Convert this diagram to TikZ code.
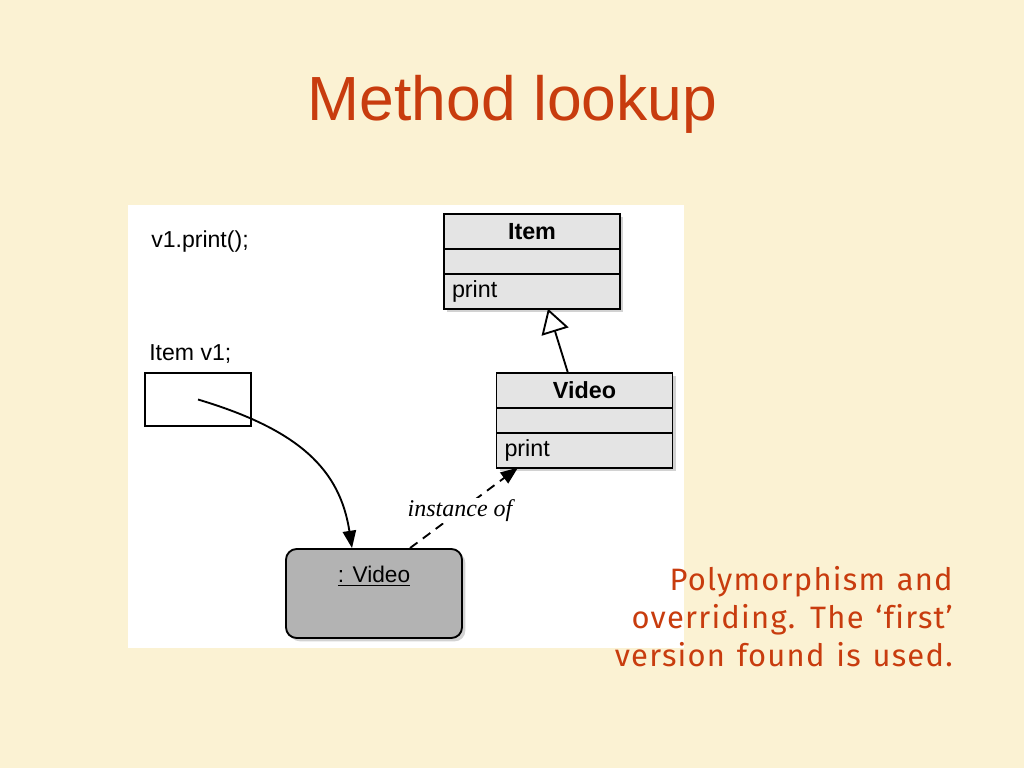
\documentclass[tikz,border=0pt]{standalone}
\usepackage{fontspec}
\setmainfont{Liberation Sans}
\newfontfamily\capfont[LetterSpace=4, WordSpace=1.25, Ligatures=NoCommon]{Fira Sans}
\newfontfamily\serifit{Liberation Serif}
\usetikzlibrary{positioning,arrows.meta,shadows}
\definecolor{slidebg}{RGB}{251,242,211}
\definecolor{slidered}{RGB}{200,60,14}
\definecolor{classgray}{RGB}{228,228,228}
\definecolor{objgray}{RGB}{179,179,179}

\tikzset{
	boxshadow/.style={drop shadow={shadow xshift=2.5pt, shadow yshift=-2.5pt, opacity=.35}},
	classbox/.style={draw, line width=1.4pt, fill=classgray, text width=120pt, inner xsep=6pt, inner ysep=0pt, outer sep=0pt, boxshadow},
	classhead/.style={classbox, minimum height=26.25pt, align=center, font=\fontsize{17.5}{20}\selectfont\bfseries},
	classattr/.style={classbox, minimum height=18.75pt},
	classop/.style={classbox, minimum height=26pt, align=left, font=\fontsize{17.5}{20}\selectfont},
	codetext/.style={anchor=base west, inner sep=0pt, font=\fontsize{17.3}{20}\selectfont},
	ref/.style={line width=1.4pt, -{Triangle[length=13pt,width=10pt]}},
}

\begin{document}
\begin{tikzpicture}[x=0.75pt, y=-0.75pt]
	\useasboundingbox (0,0) rectangle (1024,768);
	\fill [slidebg] (0,0) rectangle (1024,768);
	\fill [white] (128,205) rectangle (684,648);

	\node [anchor=base, text=slidered, font=\fontsize{46.8}{56}\selectfont] (title) at (512.5,120) {Method lookup};

	\node [codetext] (call) at (151,247) {v1.print();};
	\node [codetext] (decl) at (149,360) {Item v1;};
	\node [draw, line width=1.2pt, minimum width=79.5pt, minimum height=39.75pt] (v1box) at (198,399.5) {};

	% classes
	\node [classhead] (item) at (532,231.5) {Item};
	\node [classattr, below=0pt of item] (itemattr) {};
	\node [classop, below=0pt of itemattr] (itemop) {print};

	\node [classhead] (video) at (584.5,390.5) {Video};
	\node [classattr, below=0pt of video] (videoattr) {};
	\node [classop, below=0pt of videoattr] (videoop) {print};

	\draw [line width=1.4pt, -{Triangle[open, length=18pt, width=21pt, fill=white]}] ([xshift=-12.4pt]video.north) -- ([xshift=12pt]itemop.south);

	% object
	\node [draw, line width=1.4pt, fill=objgray, rounded corners=8pt, minimum width=132pt, minimum height=66.75pt, boxshadow] (obj) at (374,593.5) {};
	\node [below=13.5pt of obj.north, inner sep=0pt, font=\fontsize{17}{20}\selectfont] (objname) {\underline{: Video}};

	\draw [ref] (v1box.center) .. controls (300,430) and (340,470) .. ([xshift=-16.5pt]obj.north);
	\draw [ref, dash pattern=on 7pt off 5pt] ([xshift=27pt]obj.north) -- node [fill=white, inner sep=1pt, xshift=-3pt, yshift=-2pt, font=\serifit\itshape\fontsize{18}{21}\selectfont] (instlabel) {instance of} ([xshift=-49.9pt]videoop.south);

	\node [anchor=north east, align=right, inner sep=0pt, text=slidered, font=\capfont\fontsize{23.2}{28.5}\selectfont] (caption) at (953,566) {Polymorphism and\\overriding. The ‘first’\\version found is used.};
\end{tikzpicture}
\end{document}
